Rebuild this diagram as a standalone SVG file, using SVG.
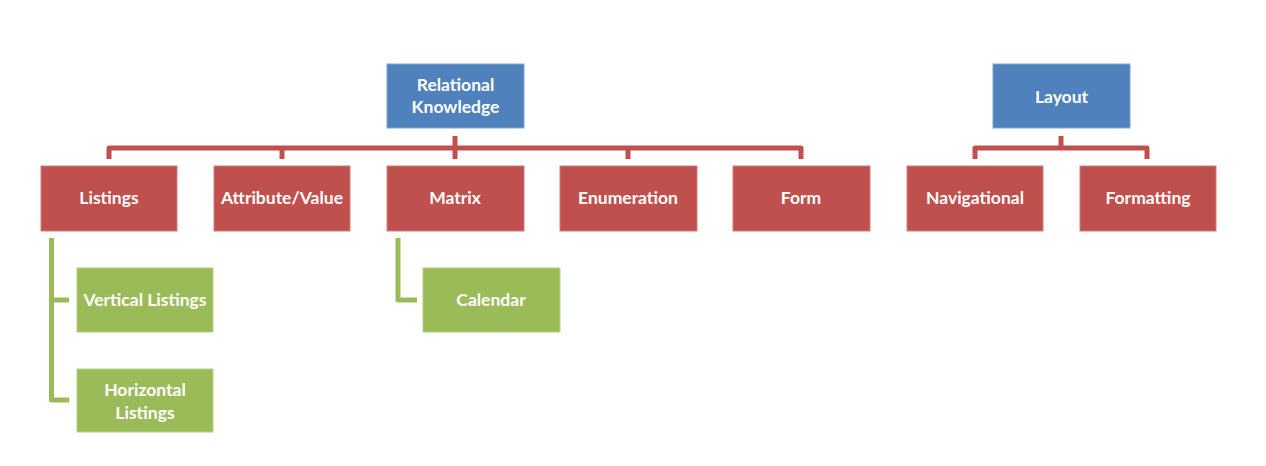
<svg xmlns="http://www.w3.org/2000/svg" width="1266" height="466" viewBox="0 0 1266 466">
<style>
.blue{fill:#4F81BD;stroke:#7FA3D0;stroke-width:1}
.red{fill:#C0504D;stroke:#D47C7A;stroke-width:1}
.green{fill:#9BBB59;stroke:#B7CE86;stroke-width:1}
.lbl{font-family:Lato,"Open Sans",sans-serif;font-size:17.5px;font-weight:bold;fill:#ffffff;text-anchor:middle;dominant-baseline:central}
.cr{fill:none;stroke:#C0504D;stroke-width:5;stroke-linejoin:round}
.cg{fill:none;stroke:#9BBB59;stroke-width:5;stroke-linejoin:round}
</style>
<rect width="1266" height="466" fill="#ffffff"/>
<g id="connectors">
<path class="cr" d="M109,159 V148 H801 V159"/>
<path class="cr" d="M282,148 V159 M628,148 V159 M455,136 V159"/>
<path class="cr" d="M975,159 V148 H1147 V159 M1061,136 V148"/>
<path class="cg" d="M51.5,238 V400 H69 M51.5,300 H69"/>
<path class="cg" d="M398,238 V300 H417"/>
</g>
<g id="relational"><rect class="blue" x="387" y="64" width="137" height="64"/><text class="lbl" x="455.5" y="84.5">Relational</text><text class="lbl" x="455.5" y="106.5">Knowledge</text></g>
<g id="layout"><rect class="blue" x="993" y="64" width="137" height="64"/><text class="lbl" x="1061.5" y="96">Layout</text></g>
<g id="listings"><rect class="red" x="41" y="166" width="136" height="65"/><text class="lbl" x="109" y="197.5">Listings</text></g>
<g id="attribute"><rect class="red" x="214" y="166" width="136" height="65"/><text class="lbl" x="282" y="197.5">Attribute/Value</text></g>
<g id="matrix"><rect class="red" x="387" y="166" width="137" height="65"/><text class="lbl" x="455" y="197.5">Matrix</text></g>
<g id="enumeration"><rect class="red" x="560" y="166" width="137" height="65"/><text class="lbl" x="628" y="197.5">Enumeration</text></g>
<g id="form"><rect class="red" x="733" y="166" width="137" height="65"/><text class="lbl" x="801" y="197.5">Form</text></g>
<g id="navigational"><rect class="red" x="907" y="166" width="136" height="65"/><text class="lbl" x="975" y="197.5">Navigational</text></g>
<g id="formatting"><rect class="red" x="1080" y="166" width="136" height="65"/><text class="lbl" x="1148" y="197.5">Formatting</text></g>
<g id="vertical"><rect class="green" x="77" y="268" width="136" height="64"/><text class="lbl" x="145" y="299.5">Vertical Listings</text></g>
<g id="horizontal"><rect class="green" x="77" y="369" width="136" height="63"/><text class="lbl" x="145" y="389.5">Horizontal</text><text class="lbl" x="145" y="412.5">Listings</text></g>
<g id="calendar"><rect class="green" x="423" y="268" width="137" height="64"/><text class="lbl" x="491" y="299.5">Calendar</text></g>
</svg>
